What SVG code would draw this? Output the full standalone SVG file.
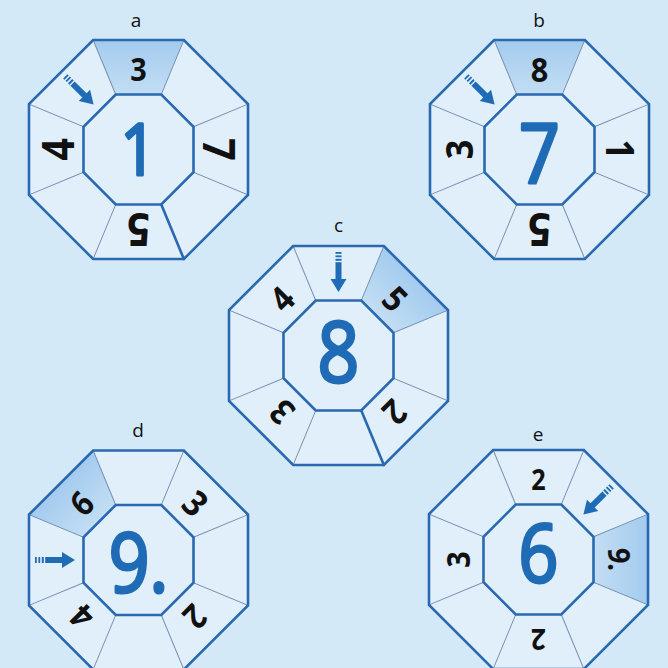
<svg xmlns="http://www.w3.org/2000/svg" xmlns:xlink="http://www.w3.org/1999/xlink" width="668" height="668" viewBox="0 0 668 668">
<style>
.bg{fill:#d4e9f8}
.of{fill:#e1effb;stroke:none}
.os{fill:none;stroke:#2a69b0;stroke-width:2.6;stroke-linejoin:miter}
.sp{stroke:#7790b3;stroke-width:1}
.spk{stroke:#2a69b0;stroke-width:2.6;stroke-linecap:round}
.hl{fill:url(#hg);stroke:none}
.num{font-family:"Open Sans","Liberation Sans",sans-serif;font-weight:700;fill:#111;text-anchor:middle}
.big{font-family:"Open Sans","Liberation Sans",sans-serif;font-weight:400;fill:#1f6bb5;stroke:#1f6bb5;stroke-width:3.2px;stroke-linejoin:round;text-anchor:middle}
.lab{font-family:"Open Sans","Liberation Sans",sans-serif;font-size:19px;fill:#111;text-anchor:middle}
.arr{fill:#1f6bb5}
</style>
<defs>
<linearGradient id="hg" gradientUnits="userSpaceOnUse" x1="0" y1="-109.5" x2="0" y2="-55">
<stop offset="0" stop-color="#a3cbee"/>
<stop offset="1" stop-color="#c3def4"/>
</linearGradient>
<polygon id="outer" points="-45.36,-109.5 45.36,-109.5 109.5,-45.36 109.5,45.36 45.36,109.5 -45.36,109.5 -109.5,45.36 -109.5,-45.36"/>
<polygon id="inner" points="-22.78,-55 22.78,-55 55,-22.78 55,22.78 22.78,55 -22.78,55 -55,22.78 -55,-22.78"/>
<polygon id="seg" points="-45.36,-109.5 45.36,-109.5 22.78,-55 -22.78,-55"/>
<line id="spoke" x1="45.36" y1="-109.5" x2="22.78" y2="-55"/>
<g id="spokes">
<use xlink:href="#spoke"/>
<use xlink:href="#spoke" transform="rotate(45)"/>
<use xlink:href="#spoke" transform="rotate(90)"/>
<use xlink:href="#spoke" transform="rotate(135)"/>
<use xlink:href="#spoke" transform="rotate(180)"/>
<use xlink:href="#spoke" transform="rotate(225)"/>
<use xlink:href="#spoke" transform="rotate(270)"/>
<use xlink:href="#spoke" transform="rotate(315)"/>
</g>
<g id="arrow">
<rect x="-3" y="-40" width="6" height="1.8"/>
<rect x="-3" y="-36.6" width="6" height="1.8"/>
<rect x="-3" y="-33.2" width="6" height="2"/>
<rect x="-3" y="-29.8" width="6" height="17.5"/>
<polygon points="-8,-13 8,-13 0,0"/>
</g>
</defs>
<rect class="bg" x="0" y="0" width="668" height="668"/>

<g id="node-a" transform="translate(138.5,149.5)">
<text class="lab" x="-2.5" y="-122.5">a</text>
<use xlink:href="#outer" class="of"/>
<use xlink:href="#seg" class="hl"/>
<use xlink:href="#spokes" class="sp"/>
<use xlink:href="#inner" class="of"/>
<use xlink:href="#inner" class="os"/>
<use xlink:href="#outer" class="os"/>
<use xlink:href="#spoke" class="spk" transform="rotate(135)"/>
<text class="num" font-size="32" y="-68.6" transform="scale(0.9,1)">3</text>
<text class="num" font-size="44" y="-64.3" transform="rotate(-90) scale(0.9,1)">4</text>
<text class="num" font-size="44" y="-64.3" transform="rotate(90) scale(0.9,1)">7</text>
<text class="num" font-size="46" y="-63.6" transform="rotate(180) scale(0.9,1)">5</text>
<text class="big" font-size="72" y="25.5" transform="scale(0.87,1)">1</text>
<use xlink:href="#arrow" class="arr" transform="rotate(-45) translate(0,-63.5)"/>
</g>

<g id="node-b" transform="translate(539.5,149.5)">
<text class="lab" x="-0.5" y="-122.5">b</text>
<use xlink:href="#outer" class="of"/>
<use xlink:href="#seg" class="hl"/>
<use xlink:href="#spokes" class="sp"/>
<use xlink:href="#inner" class="of"/>
<use xlink:href="#inner" class="os"/>
<use xlink:href="#outer" class="os"/>
<text class="num" font-size="34" y="-67.9" transform="scale(0.9,1)">8</text>
<text class="num" font-size="38" y="-66.4" transform="rotate(-90) scale(0.9,1)">3</text>
<text class="num" font-size="39" y="-66.1" transform="rotate(90) scale(0.9,1)">1</text>
<text class="num" font-size="46" y="-63.6" transform="rotate(180) scale(0.9,1)">5</text>
<text class="big" font-size="82" y="33.5" transform="scale(0.87,1)">7</text>
<use xlink:href="#arrow" class="arr" transform="rotate(-45) translate(0,-63.5)"/>
</g>

<g id="node-c" transform="translate(338.5,355.5)">
<text class="lab" x="0" y="-123.5">c</text>
<use xlink:href="#outer" class="of"/>
<use xlink:href="#seg" class="hl" transform="rotate(45)"/>
<use xlink:href="#spokes" class="sp"/>
<use xlink:href="#inner" class="of"/>
<use xlink:href="#inner" class="os"/>
<use xlink:href="#outer" class="os"/>
<use xlink:href="#spoke" class="spk" transform="rotate(135)"/>
<text class="num" font-size="35" y="-67.5" transform="rotate(-45) scale(0.9,1)">4</text>
<text class="num" font-size="35" y="-67.5" transform="rotate(45) scale(0.9,1)">5</text>
<text class="num" font-size="35" y="-67.5" transform="rotate(-135) scale(0.9,1)">3</text>
<text class="num" font-size="35" y="-67.5" transform="rotate(135) scale(0.9,1)">2</text>
<text class="big" font-size="84" y="26.5" transform="scale(0.87,1)">8</text>
<use xlink:href="#arrow" class="arr" transform="translate(0,-63.5)"/>
</g>

<g id="node-d" transform="translate(138.5,560)">
<text class="lab" x="-0.5" y="-123">d</text>
<use xlink:href="#outer" class="of"/>
<use xlink:href="#seg" class="hl" transform="rotate(-45)"/>
<use xlink:href="#spokes" class="sp"/>
<use xlink:href="#inner" class="of"/>
<use xlink:href="#inner" class="os"/>
<use xlink:href="#outer" class="os"/>
<text class="num" font-size="34" y="-67.9" transform="rotate(-45) scale(0.9,1)">6</text>
<text class="num" font-size="36" y="-67.1" transform="rotate(45) scale(0.9,1)">3</text>
<text class="num" font-size="34" y="-67.9" transform="rotate(135) scale(0.9,1)">2</text>
<text class="num" font-size="34" y="-67.9" transform="rotate(-135) scale(0.9,1)">4</text>
<text class="big" font-size="82" y="32" transform="scale(0.87,1)">9.</text>
<use xlink:href="#arrow" class="arr" transform="rotate(-90) translate(0,-63.5)"/>
</g>

<g id="node-e" transform="translate(538.5,559.5)">
<text class="lab" x="-0.5" y="-118.5">e</text>
<use xlink:href="#outer" class="of"/>
<use xlink:href="#seg" class="hl" transform="rotate(90)"/>
<use xlink:href="#spokes" class="sp"/>
<use xlink:href="#inner" class="of"/>
<use xlink:href="#inner" class="os"/>
<use xlink:href="#outer" class="os"/>
<text class="num" font-size="28" y="-70" transform="scale(0.9,1)">2</text>
<text class="num" font-size="30" y="-69.3" transform="rotate(90) scale(0.9,1)">9.</text>
<text class="num" font-size="29" y="-69.6" transform="rotate(180) scale(0.9,1)">2</text>
<text class="num" font-size="32" y="-68.6" transform="rotate(-90) scale(0.9,1)">3</text>
<text class="big" font-size="80" y="22.5" transform="scale(0.87,1)">6</text>
<use xlink:href="#arrow" class="arr" transform="rotate(45) translate(0,-63.5)"/>
</g>
</svg>
